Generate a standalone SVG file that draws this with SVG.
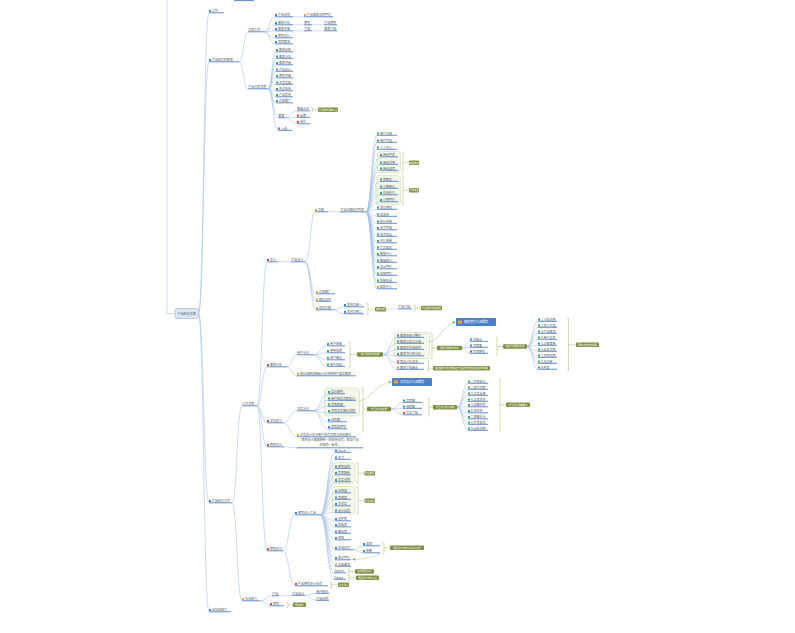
<svg xmlns="http://www.w3.org/2000/svg" width="795" height="633" viewBox="0 0 795 633">
<defs>
<style>
.t{font-family:"Noto Sans CJK SC","Noto Sans",sans-serif;font-size:3px;fill:#5a5a5a}
.ul{stroke:#4f7fc9;stroke-width:0.9;fill:none}
.c path{stroke:#a8c1e6;stroke-width:0.6;fill:none}
.ib{fill:#3f8ad8}.ig{fill:#3ea76c}.io{fill:#f0a231}.ir{fill:#dc4b4b}
.sm{fill:#7b903f}
.st{font-family:"Noto Sans CJK SC","Noto Sans",sans-serif;font-size:2.3px;fill:#fff;text-anchor:middle}
.br{stroke:#b3c47e;stroke-width:0.6;fill:none}
.bd{fill:#f3f7e9;stroke:#a9bf6c;stroke-width:0.5;stroke-dasharray:1.2 0.8}
.bx{fill:#4c7fc9}
.bt{font-family:"Noto Sans CJK SC","Noto Sans",sans-serif;font-size:3px;fill:#fff}
.da{stroke:#8ca34b;stroke-width:0.6;fill:none;stroke-dasharray:1.5 1}
</style>
<marker id="ar" viewBox="0 0 6 6" refX="6" refY="3" markerWidth="3" markerHeight="3" orient="auto" markerUnits="userSpaceOnUse"><path d="M0 0L6 3L0 6z" fill="#8ca34b"/></marker>
</defs>
<rect width="795" height="633" fill="#fff"/>

<g id="boundaries">
<rect class="bd" x="377.5" y="151.5" width="23" height="21" rx="3"/>
<rect class="bd" x="376" y="175.5" width="24.5" height="29.5" rx="3"/>
<rect class="bd" x="394.5" y="332.5" width="35" height="26" rx="3"/>
<rect class="bd" x="324.5" y="388" width="35" height="28" rx="3"/>
<rect class="bd" x="332.5" y="462.5" width="22.5" height="21" rx="3"/>
<rect class="bd" x="332.5" y="486.5" width="22.5" height="27.5" rx="3"/>
</g>

<g id="connectors" class="c">
<path d="M175 313.5H167V0"/>
<path d="M198.5 313.5C203.7 313.5 203.7 12.8 209 12.8M198.5 313.5C203.7 313.5 203.7 61.8 209 61.8M198.5 313.5C203.7 313.5 203.7 502.8 209 502.8M198.5 313.5C203.7 313.5 203.7 611.8 209 611.8"/>
<path d="M239 61.8C243.5 61.8 243.5 31.8 248 31.8M239 61.8C243.5 61.8 243.5 88.8 248 88.8"/>
<path d="M264 31.8C269.5 31.8 269.5 16.8 275 16.8M264 31.8C269.5 31.8 269.5 24.8 275 24.8M264 31.8C269.5 31.8 269.5 30.8 275 30.8M264 31.8C269.5 31.8 269.5 37.8 275 37.8M264 31.8C269.5 31.8 269.5 43.8 275 43.8"/>
<path d="M293 16.8H304M293 24.8H304M312 24.8H324M293 30.8H304M312 30.8H324"/>
<path d="M268 88.8C272 88.8 272 51.8 276 51.8M268 88.8C272 88.8 272 58.3 276 58.3M268 88.8C272 88.8 272 64.8 276 64.8M268 88.8C272 88.8 272 71.3 276 71.3M268 88.8C272 88.8 272 77.8 276 77.8M268 88.8C272 88.8 272 84.3 276 84.3M268 88.8C272 88.8 272 90.8 276 90.8M268 88.8C272 88.8 272 96.8 276 96.8M268 88.8C272 88.8 272 102.8 276 102.8M268 88.8C273 88.8 273 117.8 278 117.8M268 88.8C273 88.8 273 130.3 278 130.3"/>
<path d="M285 117.8C291 117.8 291 110.8 297 110.8M285 117.8C291 117.8 291 117.3 297 117.3M285 117.8C291 117.8 291 123.8 297 123.8"/>
<path d="M232 502.8C237 502.8 237 405.8 242 405.8M232 502.8C237 502.8 237 600.8 242 600.8"/>
<path d="M257 405.8C262 405.8 262 261.8 267 261.8M257 405.8C262 405.8 262 366.8 267 366.8M257 405.8C262 405.8 262 422.8 267 422.8M257 405.8C262 405.8 262 446.8 267 446.8M257 405.8C262 405.8 262 550.8 267 550.8"/>
<path d="M278 261.8H291"/>
<path d="M305 261.8C310.5 261.8 310.5 211.8 315 211.8M305 261.8C310.5 261.8 310.5 293.8 316 293.8M305 261.8C310.5 261.8 310.5 301.3 316 301.3M305 261.8C310.5 261.8 310.5 309.8 316 309.8"/>
<path d="M328 211.8H340"/>
<path d="M366 211.8C371.5 211.8 371.5 135.3 377 135.3M366 211.8C371.5 211.8 371.5 142.3 377 142.3M366 211.8C371.5 211.8 371.5 149.3 377 149.3M366 211.8C371.5 211.8 371.5 156.8 380 156.8M366 211.8C371.5 211.8 371.5 164.3 380 164.3M366 211.8C371.5 211.8 371.5 170.3 380 170.3M366 211.8C371.5 211.8 371.5 181.3 380 181.3M366 211.8C371.5 211.8 371.5 188.3 380 188.3M366 211.8C371.5 211.8 371.5 194.8 380 194.8M366 211.8C371.5 211.8 371.5 201.8 380 201.8M366 211.8C371.5 211.8 371.5 209.3 377 209.3M366 211.8C371.5 211.8 371.5 216.3 377 216.3M366 211.8C371.5 211.8 371.5 223.3 377 223.3M366 211.8C371.5 211.8 371.5 229.8 377 229.8M366 211.8C371.5 211.8 371.5 236.3 377 236.3M366 211.8C371.5 211.8 371.5 242.8 377 242.8M366 211.8C371.5 211.8 371.5 249.3 377 249.3M366 211.8C371.5 211.8 371.5 255.8 377 255.8M366 211.8C371.5 211.8 371.5 262.3 377 262.3M366 211.8C371.5 211.8 371.5 268.8 377 268.8M366 211.8C371.5 211.8 371.5 275.3 377 275.3M366 211.8C371.5 211.8 371.5 282.3 377 282.3M366 211.8C371.5 211.8 371.5 288.8 377 288.8"/>
<path d="M333 309.8C338.5 309.8 338.5 306.8 344 306.8M333 309.8C338.5 309.8 338.5 313.8 344 313.8"/>
<path d="M386 309.2C392 309.2 392 308.8 398 308.8"/>
<path d="M287 366.8C292 366.8 292 354.8 297 354.8M287 366.8C292 366.8 292 375.8 297 375.8"/>
<path d="M313 354.8C320 354.8 320 345.8 327 345.8M313 354.8C320 354.8 320 352.8 327 352.8M313 354.8C320 354.8 320 359.8 327 359.8M313 354.8C320 354.8 320 366.3 327 366.3"/>
<path d="M383 354.5C390 354.5 390 337.3 397 337.3M383 354.5C390 354.5 390 343.3 397 343.3M383 354.5C390 354.5 390 349.3 397 349.3M383 354.5C390 354.5 390 355.8 397 355.8M383 354.5C390 354.5 390 363.3 397 363.3M383 354.5C390 354.5 390 369.3 397 369.3"/>
<path d="M462 348C466 348 466 341.3 470 341.3M462 348C466 348 466 347.3 470 347.3M462 348C466 348 466 353.3 470 353.3"/>
<path d="M527 346.5C532.5 346.5 532.5 321.3 538 321.3M527 346.5C532.5 346.5 532.5 327.3 538 327.3M527 346.5C532.5 346.5 532.5 333.3 538 333.3M527 346.5C532.5 346.5 532.5 339.3 538 339.3M527 346.5C532.5 346.5 532.5 345.3 538 345.3M527 346.5C532.5 346.5 532.5 351.3 538 351.3M527 346.5C532.5 346.5 532.5 357.3 538 357.3M527 346.5C532.5 346.5 532.5 363.3 538 363.3M527 346.5C532.5 346.5 532.5 369.3 538 369.3"/>
<path d="M283 422.8C290 422.8 290 410.8 297 410.8M283 422.8C290 422.8 290 436.8 297 436.8"/>
<path d="M313 410.8C320.5 410.8 320.5 393.8 328 393.8M313 410.8C320.5 410.8 320.5 400.3 328 400.3M313 410.8C320.5 410.8 320.5 406.3 328 406.3M313 410.8C320.5 410.8 320.5 412.8 328 412.8M313 410.8C320.5 410.8 320.5 421.8 328 421.8M313 410.8C320.5 410.8 320.5 428.8 328 428.8"/>
<path d="M391 409C397 409 397 402.3 403 402.3M391 409C397 409 397 408.3 403 408.3M391 409C397 409 397 414.8 403 414.8"/>
<path d="M457 407.2C462.5 407.2 462.5 383.3 468 383.3M457 407.2C462.5 407.2 462.5 389.3 468 389.3M457 407.2C462.5 407.2 462.5 395.3 468 395.3M457 407.2C462.5 407.2 462.5 401.3 468 401.3M457 407.2C462.5 407.2 462.5 406.8 468 406.8M457 407.2C462.5 407.2 462.5 412.8 468 412.8M457 407.2C462.5 407.2 462.5 418.8 468 418.8M457 407.2C462.5 407.2 462.5 424.3 468 424.3M457 407.2C462.5 407.2 462.5 430.3 468 430.3"/>
<path d="M284 446.8C290.5 446.8 290.5 447.8 297 447.8"/>
<path d="M283 550.8C289 550.8 289 514.8 295 514.8M283 550.8C289 550.8 289 585.8 295 585.8"/>
<path d="M320 514.8C327.5 514.8 327.5 452.3 335 452.3M320 514.8C327.5 514.8 327.5 459.3 335 459.3M320 514.8C327.5 514.8 327.5 468.3 335 468.3M320 514.8C327.5 514.8 327.5 474.8 335 474.8M320 514.8C327.5 514.8 327.5 481.8 335 481.8M320 514.8C327.5 514.8 327.5 492.8 335 492.8M320 514.8C327.5 514.8 327.5 499.3 335 499.3M320 514.8C327.5 514.8 327.5 505.8 335 505.8M320 514.8C327.5 514.8 327.5 512.3 335 512.3M320 514.8C327.5 514.8 327.5 520.8 335 520.8M320 514.8C327.5 514.8 327.5 526.8 335 526.8M320 514.8C327.5 514.8 327.5 533.3 335 533.3M320 514.8C327.5 514.8 327.5 539.8 335 539.8M320 514.8C327.5 514.8 327.5 549.8 335 549.8M320 514.8C327.5 514.8 327.5 559.8 335 559.8M320 514.8C327.5 514.8 327.5 566.3 335 566.3M320 514.8C327 514.8 327 572.8 334 572.8M320 514.8C327 514.8 327 579.3 334 579.3"/>
<path d="M353 549.8C358 549.8 358 545.8 363 545.8M353 549.8C358 549.8 358 552.8 363 552.8"/>
<path d="M260 600.8C266 600.8 266 595.8 272 595.8M260 600.8C265 600.8 265 605.8 270 605.8"/>
<path d="M279 595.8C285.5 595.8 285.5 595.3 292 595.3"/>
<path d="M305 595.3C310.5 595.3 310.5 593.3 316 593.3M305 595.3C310.5 595.3 310.5 600.3 316 600.3"/>
</g>

<g id="relations">
<path class="da" d="M429.5 342C440 340 444 324 455.5 322" marker-end="url(#ar)"/>
<path class="da" d="M359.5 401C370 399 376 384 391.5 382" marker-end="url(#ar)"/>
<path class="da" d="M380 553.5C374 558 362 559 352.5 559.5" marker-end="url(#ar)"/>
</g>

<g id="brackets" class="br">
<path d="M311 107.5H312.5V111.8H311M312.5 109.7H318"/>
<path d="M401.5 152H403V172.5H401.5M403 162.3H409"/>
<path d="M401.5 176H403V204.5H401.5M403 190.2H409"/>
<path d="M366.5 303H368V315H366.5M368 309.2H375"/>
<path d="M413.5 305.5H415V310.5H413.5M415 308H421"/>
<path d="M348.5 342.5H350V367H348.5M350 354.5H357"/>
<path d="M430.5 333H432V358.5H430.5M432 348H437"/>
<path d="M427 360H428.5V370.5H427M428.5 368.2H433"/>
<path d="M495.5 337.5H497V355H495.5M497 346.5H503"/>
<path d="M567 318.5H568.5V370.5H567M568.5 344.7H576"/>
<path d="M361.5 388H363V431H361.5M363 409H367"/>
<path d="M427.5 398.5H429V416H427.5M429 407.2H433"/>
<path d="M498.5 379H500V431H498.5M500 404.8H506"/>
<path d="M356.5 463H358V483H356.5M358 473.2H364.5"/>
<path d="M356.5 487H358V513.5H356.5M358 500.7H364.5"/>
<path d="M382.5 542.5H384V553.5H382.5M384 547.8H390"/>
<path d="M347.5 569H349V574H347.5M349 571.5H355"/>
<path d="M347.5 575.5H349V580.5H347.5M349 577.8H356"/>
<path d="M330 582.5H331.5V587.5H330M331.5 584.8H338"/>
<path d="M286.5 602.5H288V607.5H286.5M288 604.8H293"/>
</g>

<g id="summaries">
<g id="sm1"><rect class="sm" x="318" y="107.5" width="20" height="4.4" rx="1"/><text class="st" x="328" y="110.6">产品需求评审会议</text></g>
<g id="sm2"><rect class="sm" x="409" y="160.5" width="10" height="4.4" rx="1"/><text class="st" x="414" y="163.6">商品模块</text></g>
<g id="sm3"><rect class="sm" x="409" y="188" width="10" height="4.4" rx="1"/><text class="st" x="414" y="191.1">交易模块</text></g>
<g id="sm4"><rect class="sm" x="375" y="307" width="11" height="4.4" rx="1"/><text class="st" x="380.5" y="310.1">其他功能</text></g>
<g id="sm5"><rect class="sm" x="421" y="305.8" width="21" height="4.4" rx="1"/><text class="st" x="431.5" y="308.9">产品需求文档说明</text></g>
<g id="sm6"><rect class="sm" x="357" y="352.3" width="26" height="4.4" rx="1"/><text class="st" x="370" y="355.4">用户需求分析结果</text></g>
<g id="sm7"><rect class="sm" x="437" y="345.8" width="25" height="4.4" rx="1"/><text class="st" x="449.5" y="348.9">需求池管理与评估</text></g>
<g id="sm8"><rect class="sm" x="433" y="366" width="57" height="4.4" rx="1"/><text class="st" x="461.5" y="369.1">根据需求分析结果输出产品需求文档并组织需求评审</text></g>
<g id="sm9"><rect class="sm" x="503" y="344.3" width="24" height="4.4" rx="1"/><text class="st" x="515" y="347.4">输出产品需求文档</text></g>
<g id="sm10"><rect class="sm" x="576" y="342.5" width="23" height="4.4" rx="1"/><text class="st" x="587.5" y="345.6">需求文档结构说明</text></g>
<g id="sm11"><rect class="sm" x="367" y="406.8" width="24" height="4.4" rx="1"/><text class="st" x="379" y="409.9">交互设计输出物</text></g>
<g id="sm12"><rect class="sm" x="433" y="405" width="24" height="4.4" rx="1"/><text class="st" x="445" y="408.1">交互设计规范说明</text></g>
<g id="sm13"><rect class="sm" x="506" y="402.6" width="24" height="4.4" rx="1"/><text class="st" x="518" y="405.7">交互设计评审要点</text></g>
<g id="sm14"><rect class="sm" x="364.5" y="471" width="10.5" height="4.4" rx="1"/><text class="st" x="369.7" y="474.1">原型要素</text></g>
<g id="sm15"><rect class="sm" x="364.5" y="498.5" width="10.5" height="4.4" rx="1"/><text class="st" x="369.7" y="501.6">保真程度</text></g>
<g id="sm16"><rect class="sm" x="390" y="545.6" width="34" height="4.4" rx="1"/><text class="st" x="407" y="548.7">原型设计协作工具对比分析</text></g>
<g id="sm17"><rect class="sm" x="355" y="569.3" width="19" height="4.4" rx="1"/><text class="st" x="364.5" y="572.4">在线原型工具</text></g>
<g id="sm18"><rect class="sm" x="356" y="575.6" width="23" height="4.4" rx="1"/><text class="st" x="367.5" y="578.7">界面设计协作工具</text></g>
<g id="sm19"><rect class="sm" x="338" y="582.6" width="11" height="4.4" rx="1"/><text class="st" x="343.5" y="585.7">设计规范</text></g>
<g id="sm20"><rect class="sm" x="293" y="602.6" width="13" height="4.4" rx="1"/><text class="st" x="299.5" y="605.7">原型能力</text></g>
</g>

<g id="bluebox1"><rect class="bx" x="456" y="318" width="40" height="8" rx="1"/><rect class="io" x="458" y="320.6" width="4" height="2.8" rx="0.5"/><text class="bt" x="464" y="323.1">需求管理工具推荐</text></g>
<g id="bluebox2"><rect class="bx" x="392" y="378" width="40" height="8" rx="1"/><rect class="io" x="394" y="380.6" width="4" height="2.8" rx="0.5"/><text class="bt" x="400" y="383.1">交互设计工具推荐</text></g>

<g id="root"><rect x="175" y="308.5" width="23.5" height="10" rx="2" fill="#dbe7f5" stroke="#8eafd9" stroke-width="0.6"/><text class="t" x="186.7" y="314.6" text-anchor="middle">产品经理之路</text></g>
<path id="topcut" class="ul" d="M234 0.6H254"/>

<g id="n1"><rect class="ib" x="209" y="10" width="2" height="2"/><text class="t" x="212" y="12.2">工作</text><path class="ul" d="M209 12.8H224"/></g>
<g id="n2"><rect class="ib" x="209" y="59" width="2" height="2"/><text class="t" x="212" y="61.2">产品经理的职责</text><path class="ul" d="M209 61.8H239"/></g>
<g id="n2a"><text class="t" x="248.3" y="31.2">日常工作</text><path class="ul" d="M248 31.8H264"/></g>
<g id="a1"><rect class="ib" x="275" y="14" width="2" height="2"/><text class="t" x="278" y="16.2">产品规划</text><path class="ul" d="M275 16.8H293"/></g>
<g id="a1c"><rect class="io" x="304" y="14" width="2" height="2"/><text class="t" x="307" y="16.2">产品需求规划管理</text><path class="ul" d="M304 16.8H333"/></g>
<g id="a2"><rect class="ib" x="275" y="22" width="2" height="2"/><text class="t" x="278" y="24.2">需求分析</text><path class="ul" d="M275 24.8H293"/></g>
<g id="a2c"><text class="t" x="304.3" y="24.2">原型</text><path class="ul" d="M304 24.8H312"/></g>
<g id="a2cc"><text class="t" x="324.3" y="24.2">产品原型</text><path class="ul" d="M324 24.8H337"/></g>
<g id="a3"><rect class="ib" x="275" y="28" width="2" height="2"/><text class="t" x="278" y="30.2">需求评审</text><path class="ul" d="M275 30.8H293"/></g>
<g id="a3c"><text class="t" x="304.3" y="30.2">文档</text><path class="ul" d="M304 30.8H312"/></g>
<g id="a3cc"><text class="t" x="324.3" y="30.2">需求文档</text><path class="ul" d="M324 30.8H337"/></g>
<g id="a4"><rect class="ib" x="275" y="35" width="2" height="2"/><text class="t" x="278" y="37.2">原型设计</text><path class="ul" d="M275 37.8H293"/></g>
<g id="a5"><rect class="ib" x="275" y="41" width="2" height="2"/><text class="t" x="278" y="43.2">项目跟进</text><path class="ul" d="M275 43.8H293"/></g>
<g id="n2b"><text class="t" x="248.3" y="88.2">产品开发流程</text><path class="ul" d="M248 88.8H268"/></g>
<g id="b1"><rect class="ig" x="276" y="49" width="2" height="2"/><text class="t" x="279" y="51.2">需求收集</text><path class="ul" d="M276 51.8H293"/></g>
<g id="b2"><rect class="ig" x="276" y="55.5" width="2" height="2"/><text class="t" x="279" y="57.7">需求分析</text><path class="ul" d="M276 58.3H293"/></g>
<g id="b3"><rect class="ig" x="276" y="62" width="2" height="2"/><text class="t" x="279" y="64.2">需求评审</text><path class="ul" d="M276 64.8H293"/></g>
<g id="b4"><rect class="ig" x="276" y="68.5" width="2" height="2"/><text class="t" x="279" y="70.7">产品设计</text><path class="ul" d="M276 71.3H293"/></g>
<g id="b5"><rect class="ig" x="276" y="75" width="2" height="2"/><text class="t" x="279" y="77.2">原型评审</text><path class="ul" d="M276 77.8H293"/></g>
<g id="b6"><rect class="ig" x="276" y="81.5" width="2" height="2"/><text class="t" x="279" y="83.7">开发实现</text><path class="ul" d="M276 84.3H293"/></g>
<g id="b7"><rect class="ig" x="276" y="88" width="2" height="2"/><text class="t" x="279" y="90.2">测试验收</text><path class="ul" d="M276 90.8H293"/></g>
<g id="b8"><rect class="ig" x="276" y="94" width="2" height="2"/><text class="t" x="279" y="96.2">产品发布</text><path class="ul" d="M276 96.8H293"/></g>
<g id="b9"><rect class="ig" x="276" y="100" width="2" height="2"/><text class="t" x="279" y="102.2">运营推广</text><path class="ul" d="M276 102.8H293"/></g>
<g id="b10"><text class="t" x="278.3" y="117.2">复盘</text><path class="ul" d="M278 117.8H285"/></g>
<g id="c1"><text class="t" x="297.3" y="110.2">数据分析</text><path class="ul" d="M297 110.8H310"/></g>
<g id="c2"><rect class="ir" x="297" y="114.5" width="2" height="2"/><text class="t" x="300" y="116.7">反馈</text><path class="ul" d="M297 117.3H310"/></g>
<g id="c3"><rect class="ir" x="297" y="121" width="2" height="2"/><text class="t" x="300" y="123.2">迭代</text><path class="ul" d="M297 123.8H310"/></g>
<g id="b11"><rect class="ir" x="278" y="127.5" width="2" height="2"/><text class="t" x="281" y="129.7">上线</text><path class="ul" d="M278 130.3H292"/></g>

<g id="n3"><rect class="ib" x="209" y="500" width="2" height="2"/><text class="t" x="212" y="502.2">产品经理工作</text><path class="ul" d="M209 502.8H232"/></g>
<g id="w"><text class="t" x="242.3" y="405.2">工作流程</text><path class="ul" d="M242 405.8H257"/></g>
<g id="s"><rect class="io" x="242" y="598" width="2" height="2"/><text class="t" x="245" y="600.2">专业能力</text><path class="ul" d="M242 600.8H260"/></g>
<g id="n4"><rect class="ib" x="209" y="609" width="2" height="2"/><text class="t" x="212" y="611.2">经验和能力</text><path class="ul" d="M209 611.8H231"/></g>

<g id="D"><rect class="ir" x="267" y="259" width="2" height="2"/><text class="t" x="270" y="261.2">设计</text><path class="ul" d="M267 261.8H278"/></g>
<g id="PD"><text class="t" x="291.3" y="261.2">产品设计</text><path class="ul" d="M291 261.8H305"/></g>
<g id="P1"><rect class="io" x="315" y="209" width="2" height="2"/><text class="t" x="318" y="211.2">功能</text><path class="ul" d="M315 211.8H328"/></g>
<g id="PM"><text class="t" x="340.3" y="211.2">产品功能模块列表</text><path class="ul" d="M340 211.8H366"/></g>
<g id="L1"><rect class="ig" x="377" y="132.5" width="2" height="2"/><text class="t" x="380" y="134.7">用户注册</text><path class="ul" d="M377 135.3H397"/></g>
<g id="L2"><rect class="ig" x="377" y="139.5" width="2" height="2"/><text class="t" x="380" y="141.7">用户登录</text><path class="ul" d="M377 142.3H397"/></g>
<g id="L3"><rect class="ig" x="377" y="146.5" width="2" height="2"/><text class="t" x="380" y="148.7">个人中心</text><path class="ul" d="M377 149.3H397"/></g>
<g id="L4"><rect class="ig" x="380" y="154" width="2" height="2"/><text class="t" x="383" y="156.2">商品列表</text><path class="ul" d="M380 156.8H398"/></g>
<g id="L5"><rect class="ig" x="380" y="161.5" width="2" height="2"/><text class="t" x="383" y="163.7">商品详情</text><path class="ul" d="M380 164.3H398"/></g>
<g id="L6"><rect class="ig" x="380" y="167.5" width="2" height="2"/><text class="t" x="383" y="169.7">商品搜索</text><path class="ul" d="M380 170.3H398"/></g>
<g id="L7"><rect class="ig" x="380" y="178.5" width="2" height="2"/><text class="t" x="383" y="180.7">购物车</text><path class="ul" d="M380 181.3H398"/></g>
<g id="L8"><rect class="ig" x="380" y="185.5" width="2" height="2"/><text class="t" x="383" y="187.7">订单确认</text><path class="ul" d="M380 188.3H398"/></g>
<g id="L9"><rect class="ig" x="380" y="192" width="2" height="2"/><text class="t" x="383" y="194.2">在线支付</text><path class="ul" d="M380 194.8H398"/></g>
<g id="L10"><rect class="ig" x="380" y="199" width="2" height="2"/><text class="t" x="383" y="201.2">订单管理</text><path class="ul" d="M380 201.8H398"/></g>
<g id="L11"><rect class="ig" x="377" y="206.5" width="2" height="2"/><text class="t" x="380" y="208.7">消息通知</text><path class="ul" d="M377 209.3H397"/></g>
<g id="L12"><rect class="ig" x="377" y="213.5" width="2" height="2"/><text class="t" x="380" y="215.7">优惠券</text><path class="ul" d="M377 216.3H397"/></g>
<g id="L13"><rect class="ig" x="377" y="220.5" width="2" height="2"/><text class="t" x="380" y="222.7">积分系统</text><path class="ul" d="M377 223.3H397"/></g>
<g id="L14"><rect class="ig" x="377" y="227" width="2" height="2"/><text class="t" x="380" y="229.2">会员等级</text><path class="ul" d="M377 229.8H397"/></g>
<g id="L15"><rect class="ig" x="377" y="233.5" width="2" height="2"/><text class="t" x="380" y="235.7">收货地址</text><path class="ul" d="M377 236.3H397"/></g>
<g id="L16"><rect class="ig" x="377" y="240" width="2" height="2"/><text class="t" x="380" y="242.2">评价晒单</text><path class="ul" d="M377 242.8H397"/></g>
<g id="L17"><rect class="ig" x="377" y="246.5" width="2" height="2"/><text class="t" x="380" y="248.7">售后服务</text><path class="ul" d="M377 249.3H397"/></g>
<g id="L18"><rect class="ig" x="377" y="253" width="2" height="2"/><text class="t" x="380" y="255.2">客服中心</text><path class="ul" d="M377 255.8H397"/></g>
<g id="L19"><rect class="ig" x="377" y="259.5" width="2" height="2"/><text class="t" x="380" y="261.7">数据统计</text><path class="ul" d="M377 262.3H397"/></g>
<g id="L20"><rect class="ig" x="377" y="266" width="2" height="2"/><text class="t" x="380" y="268.2">后台管理</text><path class="ul" d="M377 268.8H397"/></g>
<g id="L21"><rect class="ig" x="377" y="272.5" width="2" height="2"/><text class="t" x="380" y="274.7">权限管理</text><path class="ul" d="M377 275.3H397"/></g>
<g id="L22"><rect class="ig" x="377" y="279.5" width="2" height="2"/><text class="t" x="380" y="281.7">系统设置</text><path class="ul" d="M377 282.3H397"/></g>
<g id="L23"><rect class="io" x="377" y="286" width="2" height="2"/><text class="t" x="380" y="288.2">帮助中心</text><path class="ul" d="M377 288.8H397"/></g>
<g id="P2"><rect class="io" x="316" y="291" width="2" height="2"/><text class="t" x="319" y="293.2">运营推广</text><path class="ul" d="M316 293.8H335"/></g>
<g id="P3"><rect class="io" x="316" y="298.5" width="2" height="2"/><text class="t" x="319" y="300.7">团队协作</text><path class="ul" d="M316 301.3H331"/></g>
<g id="P4"><rect class="io" x="316" y="307" width="2" height="2"/><text class="t" x="319" y="309.2">其他功能</text><path class="ul" d="M316 309.8H333"/></g>
<g id="P4a"><rect class="ib" x="344" y="304" width="2" height="2"/><text class="t" x="347" y="306.2">其他功能一</text><path class="ul" d="M344 306.8H364"/></g>
<g id="P4b"><rect class="ib" x="344" y="311" width="2" height="2"/><text class="t" x="347" y="313.2">其他功能二</text><path class="ul" d="M344 313.8H364"/></g>
<g id="DOC"><text class="t" x="398.3" y="308.2">产品文档</text><path class="ul" d="M398 308.8H412"/></g>

<g id="R"><rect class="ir" x="267" y="364" width="2" height="2"/><text class="t" x="270" y="366.2">需求分析</text><path class="ul" d="M267 366.8H287"/></g>
<g id="R1"><text class="t" x="297.3" y="354.2">用户分析</text><path class="ul" d="M297 354.8H313"/></g>
<g id="R2"><rect class="io" x="297" y="373" width="2" height="2"/><text class="t" x="300" y="375.2">通过调研和数据分析挖掘用户真实需求</text><path class="ul" d="M297 375.8H356"/></g>
<g id="R1a"><rect class="ig" x="327" y="343" width="2" height="2"/><text class="t" x="330" y="345.2">用户画像</text><path class="ul" d="M327 345.8H345"/></g>
<g id="R1b"><rect class="ig" x="327" y="350" width="2" height="2"/><text class="t" x="330" y="352.2">使用场景</text><path class="ul" d="M327 352.8H345"/></g>
<g id="R1c"><rect class="ig" x="327" y="357" width="2" height="2"/><text class="t" x="330" y="359.2">用户痛点</text><path class="ul" d="M327 359.8H345"/></g>
<g id="R1d"><rect class="ig" x="327" y="363.5" width="2" height="2"/><text class="t" x="330" y="365.7">用户目标</text><path class="ul" d="M327 366.3H345"/></g>
<g id="RB1"><rect class="ig" x="397" y="334.5" width="2" height="2"/><text class="t" x="400" y="336.7">需求收集与整理</text><path class="ul" d="M397 337.3H424"/></g>
<g id="RB2"><rect class="ig" x="397" y="340.5" width="2" height="2"/><text class="t" x="400" y="342.7">需求分类与分级</text><path class="ul" d="M397 343.3H424"/></g>
<g id="RB3"><rect class="ig" x="397" y="346.5" width="2" height="2"/><text class="t" x="400" y="348.7">需求优先级排序</text><path class="ul" d="M397 349.3H424"/></g>
<g id="RB4"><rect class="ig" x="397" y="353" width="2" height="2"/><text class="t" x="400" y="355.2">需求可行性分析</text><path class="ul" d="M397 355.8H424"/></g>
<g id="RB5"><rect class="ir" x="397" y="360.5" width="2" height="2"/><text class="t" x="400" y="362.7">竞品分析报告</text><path class="ul" d="M397 363.3H424"/></g>
<g id="RB6"><rect class="io" x="397" y="366.5" width="2" height="2"/><text class="t" x="400" y="368.7">需求文档输出</text><path class="ul" d="M397 369.3H424"/></g>
<g id="RA1"><rect class="ib" x="470" y="338.5" width="2" height="2"/><text class="t" x="473" y="340.7">功能点</text><path class="ul" d="M470 341.3H488"/></g>
<g id="RA2"><rect class="ib" x="470" y="344.5" width="2" height="2"/><text class="t" x="473" y="346.7">流程图</text><path class="ul" d="M470 347.3H488"/></g>
<g id="RA3"><rect class="ir" x="470" y="350.5" width="2" height="2"/><text class="t" x="473" y="352.7">页面原型</text><path class="ul" d="M470 353.3H488"/></g>
<g id="R9a"><rect class="ig" x="538" y="318.5" width="2" height="2"/><text class="t" x="541" y="320.7">1.文档说明</text><path class="ul" d="M538 321.3H557"/></g>
<g id="R9b"><rect class="ig" x="538" y="324.5" width="2" height="2"/><text class="t" x="541" y="326.7">2.修订记录</text><path class="ul" d="M538 327.3H557"/></g>
<g id="R9c"><rect class="ig" x="538" y="330.5" width="2" height="2"/><text class="t" x="541" y="332.7">3.产品概述</text><path class="ul" d="M538 333.3H557"/></g>
<g id="R9d"><rect class="ig" x="538" y="336.5" width="2" height="2"/><text class="t" x="541" y="338.7">4.用户角色</text><path class="ul" d="M538 339.3H557"/></g>
<g id="R9e"><rect class="ig" x="538" y="342.5" width="2" height="2"/><text class="t" x="541" y="344.7">5.功能清单</text><path class="ul" d="M538 345.3H557"/></g>
<g id="R9f"><rect class="ig" x="538" y="348.5" width="2" height="2"/><text class="t" x="541" y="350.7">6.业务流程</text><path class="ul" d="M538 351.3H557"/></g>
<g id="R9g"><rect class="ig" x="538" y="354.5" width="2" height="2"/><text class="t" x="541" y="356.7">7.页面说明</text><path class="ul" d="M538 357.3H557"/></g>
<g id="R9h"><rect class="ig" x="538" y="360.5" width="2" height="2"/><text class="t" x="541" y="362.7">8.非功能</text><path class="ul" d="M538 363.3H557"/></g>
<g id="R9i"><rect class="ig" x="538" y="366.5" width="2" height="2"/><text class="t" x="541" y="368.7">9.附录</text><path class="ul" d="M538 369.3H557"/></g>

<g id="I"><rect class="ir" x="267" y="420" width="2" height="2"/><text class="t" x="270" y="422.2">交互设计</text><path class="ul" d="M267 422.8H283"/></g>
<g id="I1"><text class="t" x="297.3" y="410.2">交互分析</text><path class="ul" d="M297 410.8H313"/></g>
<g id="I2"><rect class="io" x="297" y="434" width="2" height="2"/><text class="t" x="300" y="436.2">交互设计关注用户操作流程与体验细节</text><path class="ul" d="M297 436.8H356"/></g>
<g id="IB1"><rect class="ig" x="328" y="391" width="2" height="2"/><text class="t" x="331" y="393.2">信息架构</text><path class="ul" d="M328 393.8H345"/></g>
<g id="IB2"><rect class="ig" x="328" y="397.5" width="2" height="2"/><text class="t" x="331" y="399.7">用户操作流程设计</text><path class="ul" d="M328 400.3H356"/></g>
<g id="IB3"><rect class="ig" x="328" y="403.5" width="2" height="2"/><text class="t" x="331" y="405.7">页面框架</text><path class="ul" d="M328 406.3H345"/></g>
<g id="IB4"><rect class="ig" x="328" y="410" width="2" height="2"/><text class="t" x="331" y="412.2">页面交互细节说明</text><path class="ul" d="M328 412.8H356"/></g>
<g id="IB5"><rect class="ib" x="328" y="419" width="2" height="2"/><text class="t" x="331" y="421.2">线框图</text><path class="ul" d="M328 421.8H347"/></g>
<g id="IB6"><rect class="ib" x="328" y="426" width="2" height="2"/><text class="t" x="331" y="428.2">高保真原型</text><path class="ul" d="M328 428.8H347"/></g>
<g id="IA1"><rect class="ib" x="403" y="399.5" width="2" height="2"/><text class="t" x="406" y="401.7">流程图</text><path class="ul" d="M403 402.3H422"/></g>
<g id="IA2"><rect class="ib" x="403" y="405.5" width="2" height="2"/><text class="t" x="406" y="407.7">线框图</text><path class="ul" d="M403 408.3H422"/></g>
<g id="IA3"><rect class="ir" x="403" y="412" width="2" height="2"/><text class="t" x="406" y="414.2">交互文档</text><path class="ul" d="M403 414.8H422"/></g>
<g id="I9a"><rect class="ig" x="468" y="380.5" width="2" height="2"/><text class="t" x="471" y="382.7">1.页面布局</text><path class="ul" d="M468 383.3H488"/></g>
<g id="I9b"><rect class="ig" x="468" y="386.5" width="2" height="2"/><text class="t" x="471" y="388.7">2.操作流程</text><path class="ul" d="M468 389.3H488"/></g>
<g id="I9c"><rect class="ig" x="468" y="392.5" width="2" height="2"/><text class="t" x="471" y="394.7">3.交互反馈</text><path class="ul" d="M468 395.3H488"/></g>
<g id="I9d"><rect class="ig" x="468" y="398.5" width="2" height="2"/><text class="t" x="471" y="400.7">4.异常状态</text><path class="ul" d="M468 401.3H488"/></g>
<g id="I9e"><rect class="ig" x="468" y="404" width="2" height="2"/><text class="t" x="471" y="406.2">5.加载状态</text><path class="ul" d="M468 406.8H488"/></g>
<g id="I9f"><rect class="ig" x="468" y="410" width="2" height="2"/><text class="t" x="471" y="412.2">6.空状态</text><path class="ul" d="M468 412.8H488"/></g>
<g id="I9g"><rect class="ig" x="468" y="416" width="2" height="2"/><text class="t" x="471" y="418.2">7.弹窗提示</text><path class="ul" d="M468 418.8H488"/></g>
<g id="I9h"><rect class="ig" x="468" y="421.5" width="2" height="2"/><text class="t" x="471" y="423.7">8.手势操作</text><path class="ul" d="M468 424.3H488"/></g>
<g id="I9i"><rect class="ig" x="468" y="427.5" width="2" height="2"/><text class="t" x="471" y="429.7">9.动效说明</text><path class="ul" d="M468 430.3H488"/></g>

<g id="U"><rect class="ir" x="267" y="444" width="2" height="2"/><text class="t" x="270" y="446.2">界面设计</text><path class="ul" d="M267 446.8H284"/></g>
<g id="UT"><text class="t" x="330" y="440.6" text-anchor="middle">界面设计需遵循统一的视觉规范，保证产品</text><text class="t" x="330" y="445.6" text-anchor="middle">风格的一致性。</text><path class="ul" d="M297 447.8H363"/></g>

<g id="Y"><rect class="ir" x="267" y="548" width="2" height="2"/><text class="t" x="270" y="550.2">原型设计</text><path class="ul" d="M267 550.8H283"/></g>
<g id="Y1"><rect class="ib" x="295" y="512" width="2" height="2"/><text class="t" x="298" y="514.2">原型设计工具</text><path class="ul" d="M295 514.8H320"/></g>
<g id="Y2"><rect class="ir" x="295" y="583" width="2" height="2"/><text class="t" x="298" y="585.2">产品原型设计规范</text><path class="ul" d="M295 585.8H328"/></g>
<g id="Ya"><rect class="ib" x="335" y="449.5" width="2" height="2"/><text class="t" x="338" y="451.7">Axure</text><path class="ul" d="M335 452.3H351"/></g>
<g id="Yb"><rect class="ib" x="335" y="456.5" width="2" height="2"/><text class="t" x="338" y="458.7">墨刀</text><path class="ul" d="M335 459.3H351"/></g>
<g id="Yc"><rect class="ib" x="335" y="465.5" width="2" height="2"/><text class="t" x="338" y="467.7">原型结构</text><path class="ul" d="M335 468.3H351"/></g>
<g id="Yd"><rect class="ib" x="335" y="472" width="2" height="2"/><text class="t" x="338" y="474.2">页面跳转</text><path class="ul" d="M335 474.8H351"/></g>
<g id="Ye"><rect class="ib" x="335" y="479" width="2" height="2"/><text class="t" x="338" y="481.2">交互说明</text><path class="ul" d="M335 481.8H351"/></g>
<g id="Yf"><rect class="ib" x="335" y="490" width="2" height="2"/><text class="t" x="338" y="492.2">低保真</text><path class="ul" d="M335 492.8H351"/></g>
<g id="Yg"><rect class="ib" x="335" y="496.5" width="2" height="2"/><text class="t" x="338" y="498.7">高保真</text><path class="ul" d="M335 499.3H351"/></g>
<g id="Yh"><rect class="ib" x="335" y="503" width="2" height="2"/><text class="t" x="338" y="505.2">可交互</text><path class="ul" d="M335 505.8H351"/></g>
<g id="Yi"><rect class="ib" x="335" y="509.5" width="2" height="2"/><text class="t" x="338" y="511.7">设计规范</text><path class="ul" d="M335 512.3H351"/></g>
<g id="Yj"><rect class="ib" x="335" y="518" width="2" height="2"/><text class="t" x="338" y="520.2">组件库</text><path class="ul" d="M335 520.8H351"/></g>
<g id="Yk"><rect class="ib" x="335" y="524" width="2" height="2"/><text class="t" x="338" y="526.2">模板库</text><path class="ul" d="M335 526.8H351"/></g>
<g id="Yl"><rect class="ib" x="335" y="530.5" width="2" height="2"/><text class="t" x="338" y="532.7">图标库</text><path class="ul" d="M335 533.3H351"/></g>
<g id="Ym"><rect class="ib" x="335" y="537" width="2" height="2"/><text class="t" x="338" y="539.2">母版</text><path class="ul" d="M335 539.8H351"/></g>
<g id="Yn"><rect class="ib" x="335" y="547" width="2" height="2"/><text class="t" x="338" y="549.2">在线协作</text><path class="ul" d="M335 549.8H353"/></g>
<g id="Yo"><rect class="ib" x="335" y="557" width="2" height="2"/><text class="t" x="338" y="559.2">版本管理</text><path class="ul" d="M335 559.8H351"/></g>
<g id="Yp"><rect class="io" x="335" y="563.5" width="2" height="2"/><text class="t" x="338" y="565.7">注意事项</text><path class="ul" d="M335 566.3H351"/></g>
<g id="Yq"><text class="t" x="334.3" y="572.2">Sketch</text><path class="ul" d="M334 572.8H346"/></g>
<g id="Yr"><text class="t" x="334.3" y="578.7">Figma</text><path class="ul" d="M334 579.3H346"/></g>
<g id="Yn1"><rect class="ib" x="363" y="543" width="2" height="2"/><text class="t" x="366" y="545.2">蓝湖</text><path class="ul" d="M363 545.8H380"/></g>
<g id="Yn2"><rect class="ib" x="363" y="550" width="2" height="2"/><text class="t" x="366" y="552.2">摹客</text><path class="ul" d="M363 552.8H380"/></g>

<g id="S1"><text class="t" x="272.3" y="595.2">产品</text><path class="ul" d="M272 595.8H279"/></g>
<g id="S1b"><text class="t" x="292.3" y="594.7">产品设计</text><path class="ul" d="M292 595.3H305"/></g>
<g id="S1c"><text class="t" x="316.3" y="592.7">用户研究</text><path class="ul" d="M316 593.3H329"/></g>
<g id="S1d"><text class="t" x="316.3" y="599.7">产品规划</text><path class="ul" d="M316 600.3H329"/></g>
<g id="S2"><rect class="ir" x="270" y="603" width="2" height="2"/><text class="t" x="273" y="605.2">原型</text><path class="ul" d="M270 605.8H284"/></g>
</svg>
